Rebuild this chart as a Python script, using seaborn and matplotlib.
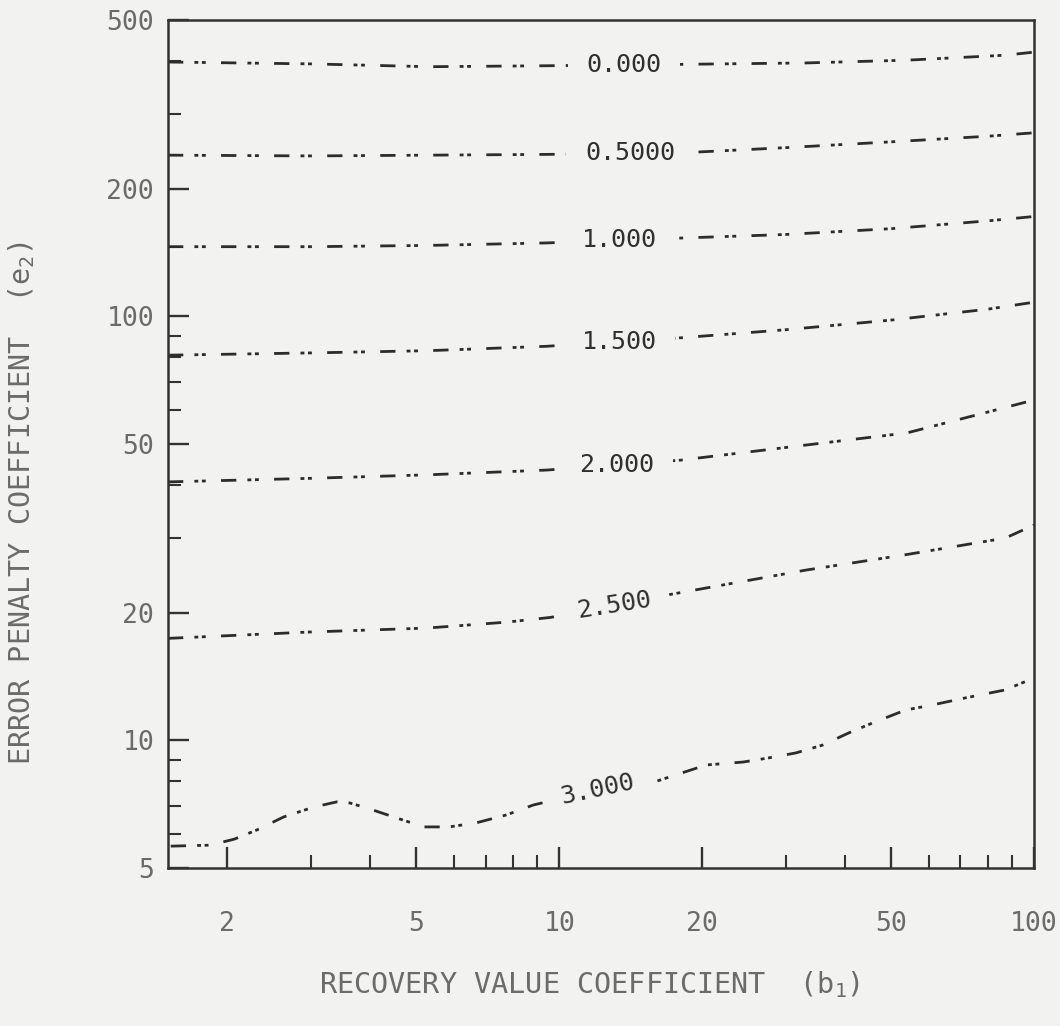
import numpy as np
import pandas as pd
import matplotlib
matplotlib.use("Agg")
import matplotlib.pyplot as plt
import seaborn as sns
from matplotlib.ticker import FixedLocator, FixedFormatter, NullFormatter

# ---- traced contour lines: recovery value coefficient b1 vs error penalty e2 ----
levels = ["0.000", "0.5000", "1.000", "1.500", "2.000", "2.500", "3.000"]

b1_000 = [1.5, 3.0, 5.3, 9.4, 18.0, 33.0, 54.0, 87.0, 100.0]
e2_000 = [398, 394, 388, 390, 393, 396, 402, 413, 420]

b1_050 = [1.5, 3.0, 5.3, 9.4, 18.0, 30.0, 50.0, 80.0, 100.0]
e2_050 = [240, 239, 240, 241, 243, 250, 258, 266, 271]

b1_100 = [1.5, 3.0, 5.3, 9.4, 18.0, 30.0, 50.0, 80.0, 100.0]
e2_100 = [146, 146, 147, 149, 153, 156, 161, 168, 172]

b1_150 = [1.5, 3.0, 5.3, 9.4, 18.0, 30.0, 50.0, 80.0, 100.0]
e2_150 = [81, 82, 83, 85, 89, 93, 98, 104, 108]

b1_200 = [1.5, 3.0, 5.3, 9.4, 18.0, 33.0, 54.0, 80.0, 100.0]
e2_200 = [40.7, 41.5, 42.3, 43.4, 45.8, 49.7, 53.1, 59.5, 63.5]

b1_250 = [1.5, 2.94, 5.26, 7.74, 9.6, 16.8, 33.0, 53.6, 87.0, 100.0]
e2_250 = [17.4, 18.0, 18.4, 19.0, 19.5, 22.0, 25.2, 27.4, 30.0, 32.2]

b1_300 = [1.52, 1.84, 2.07, 2.31, 2.63, 3.04, 3.40, 3.62, 3.99, 4.55, 5.18,
          5.87, 6.69, 7.74, 8.82, 12.0, 15.6, 20.4, 24.4, 27.6, 31.5, 35.9,
          40.7, 45.7, 53.6, 61.1, 71.6, 86.9, 100.0]
e2_300 = [5.63, 5.66, 5.85, 6.15, 6.60, 6.96, 7.16, 7.12, 6.89, 6.56, 6.25,
          6.25, 6.39, 6.67, 7.04, 7.64, 7.93, 8.75, 8.89, 9.09, 9.34, 9.75,
          10.41, 10.99, 11.79, 12.12, 12.59, 13.15, 14.03]

curves = [(b1_000, e2_000), (b1_050, e2_050), (b1_100, e2_100), (b1_150, e2_150),
          (b1_200, e2_200), (b1_250, e2_250), (b1_300, e2_300)]

# ---- axis ticks ----
x_major = [2, 5, 10, 20, 50, 100]
x_labels = ["2", "5", "10", "20", "50", "100"]
x_minor = [3, 4, 6, 7, 8, 9, 30, 40, 60, 70, 80, 90]
y_major = [5, 10, 20, 50, 100, 200, 500]
y_labels = ["5", "10", "20", "50", "100", "200", "500"]
y_minor = [6, 7, 8, 9, 30, 40, 60, 70, 80, 90, 300, 400]

frames = []
for lev, (bx, ey) in zip(levels, curves):
    frames.append(pd.DataFrame({"b1": bx, "e2": ey, "level": lev}))
df = pd.concat(frames, ignore_index=True)

# ---- styling ----
sns.set_style("ticks")
plt.rcParams["font.family"] = ["DejaVu Sans Mono", "DejaVu Sans"]
plt.rcParams["mathtext.fontset"] = "custom"
plt.rcParams["mathtext.rm"] = "DejaVu Sans Mono"
plt.rcParams["mathtext.it"] = "DejaVu Sans Mono"
plt.rcParams["lines.scale_dashes"] = False

bg = "#f2f2f0"
ink = "#2c2c2c"
text_grey = "#6b6b6b"

fig = plt.figure(figsize=(10.6, 10.26), dpi=100, facecolor=bg)
ax = fig.add_axes([0.1585, 0.154, 0.817, 0.8265], facecolor=bg)
ax.set_xscale("log")
ax.set_yscale("log")

dash_dot_dot = (0, (11, 8, 2.8, 2.6, 2.8, 11))
sns.lineplot(data=df, x="b1", y="e2", units="level", estimator=None, sort=False,
             color=ink, linewidth=2.0, linestyle=dash_dot_dot, ax=ax, legend=False)

ax.set_xlim(1.5, 100)
ax.set_ylim(5, 500)

ax.xaxis.set_major_locator(FixedLocator(x_major))
ax.xaxis.set_major_formatter(FixedFormatter(x_labels))
ax.xaxis.set_minor_locator(FixedLocator(x_minor))
ax.xaxis.set_minor_formatter(NullFormatter())
ax.yaxis.set_major_locator(FixedLocator(y_major))
ax.yaxis.set_major_formatter(FixedFormatter(y_labels))
ax.yaxis.set_minor_locator(FixedLocator(y_minor))
ax.yaxis.set_minor_formatter(NullFormatter())

ax.tick_params(which="both", direction="in", top=False, right=False,
               color="#333333", labelcolor=text_grey, labelsize=19)
ax.tick_params(which="major", length=15, width=1.7)
ax.tick_params(which="minor", length=9.5, width=1.5)
ax.tick_params(axis="x", which="major", pad=31)
ax.tick_params(axis="y", which="major", pad=10)

for side in ax.spines.values():
    side.set_color("#333333")
    side.set_linewidth(1.8)

# contour labels sitting in gaps of their lines
label_b1 = [13.7, 14.1, 13.4, 13.37, 13.2, 13.04, 12.07]
label_rot = [0, 0, 0, 0, 0, 9, 12]
for lev, (bx, ey), lx, rot in zip(levels, curves, label_b1, label_rot):
    ly = 10 ** np.interp(np.log10(lx), np.log10(bx), np.log10(ey))
    ax.text(lx, ly, lev, ha="center", va="center", rotation=rot,
            rotation_mode="anchor", fontsize=18, color="#303030", zorder=5,
            bbox=dict(boxstyle="square,pad=0.75", facecolor=bg, edgecolor="none"))

ax.set_xlabel("RECOVERY VALUE COEFFICIENT  (b$_1$)", fontsize=20.5, color=text_grey)
ax.set_ylabel("ERROR PENALTY COEFFICIENT  (e$_2$)", fontsize=20.5, color=text_grey)
ax.xaxis.label.set_va("center")
ax.yaxis.label.set_va("center")
ax.xaxis.set_label_coords(0.487, -0.138)
ax.yaxis.set_label_coords(-0.1686, 0.430)

fig.savefig("out.png", dpi=100, facecolor=bg)
